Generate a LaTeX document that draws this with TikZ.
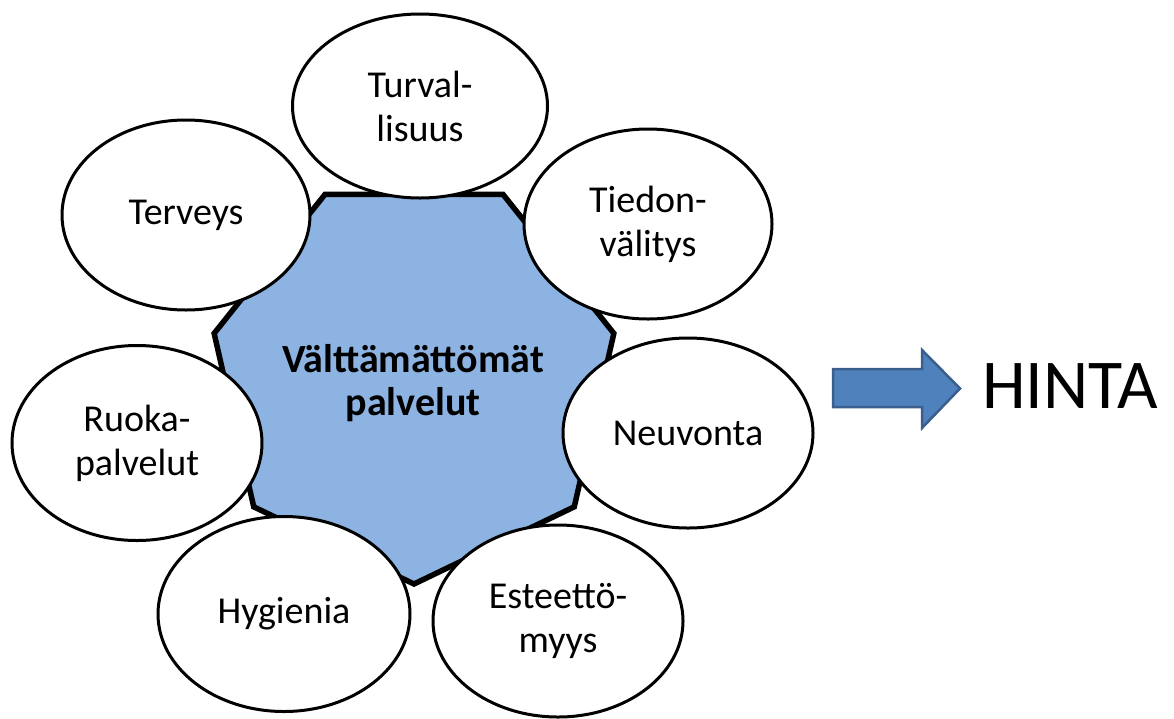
\documentclass[tikz,border=0pt]{standalone}
\usepackage{fontspec}
\setmainfont{Carlito}
\usetikzlibrary{shapes.geometric,calc}
\definecolor{hexfill}{HTML}{8DB3E2}
\definecolor{arrfill}{HTML}{4F81BD}
\definecolor{arrdraw}{HTML}{3A5F8D}
\tikzset{
  bubble/.style={ellipse, draw=black, line width=3pt, fill=white, inner sep=0pt,
    align=center, font=\fontsize{38}{44}\selectfont},
}
\begin{document}
\begin{tikzpicture}[x=1pt,y=-1pt]
\useasboundingbox (0,0) rectangle (1174,718);
% central heptagon (one vertex pointing down)
\coordinate (c) at (414,379);
\draw[fill=hexfill, line width=5.5pt, line join=miter]
  ($(c)+(90:205)$) \foreach \k in {1,...,6} { -- ($(c)+({90+\k*360/7}:205)$) } -- cycle;
\node[align=center, font=\fontsize{40}{43}\selectfont\bfseries] (mid) at (413,383) {Välttämättömät\\palvelut};
% bubbles
\node[bubble, minimum width=255pt, minimum height=184pt] (turv) at (420,106) {Turval-\\lisuus};
\node[bubble, minimum width=248pt, minimum height=190pt] (tied) at (648,224) {Tiedon-\\välitys};
\node[bubble, minimum width=250pt, minimum height=190pt] (neuv) at (688,433) {Neuvonta};
\node[bubble, minimum width=250pt, minimum height=192pt] (este) at (558,621) {Esteettö-\\myys};
\node[bubble, minimum width=252pt, minimum height=195pt] (hyg) at (284,614) {Hygienia};
\node[bubble, minimum width=250pt, minimum height=195pt] (ruok) at (137,443) {Ruoka-\\palvelut};
\node[bubble, minimum width=248pt, minimum height=190pt] (terv) at (186,215) {Terveys};
% arrow
\draw[fill=arrfill, draw=arrdraw, line width=2.5pt, line join=miter]
  (833,369) -- (922,369) -- (922,350) -- (960,388.5) -- (922,428) -- (922,407) -- (833,407) -- cycle;
\node[anchor=west, font=\fontsize{70}{76}\selectfont, inner sep=0pt] (hinta) at (982,386) {HINTA};
\end{tikzpicture}
\end{document}
